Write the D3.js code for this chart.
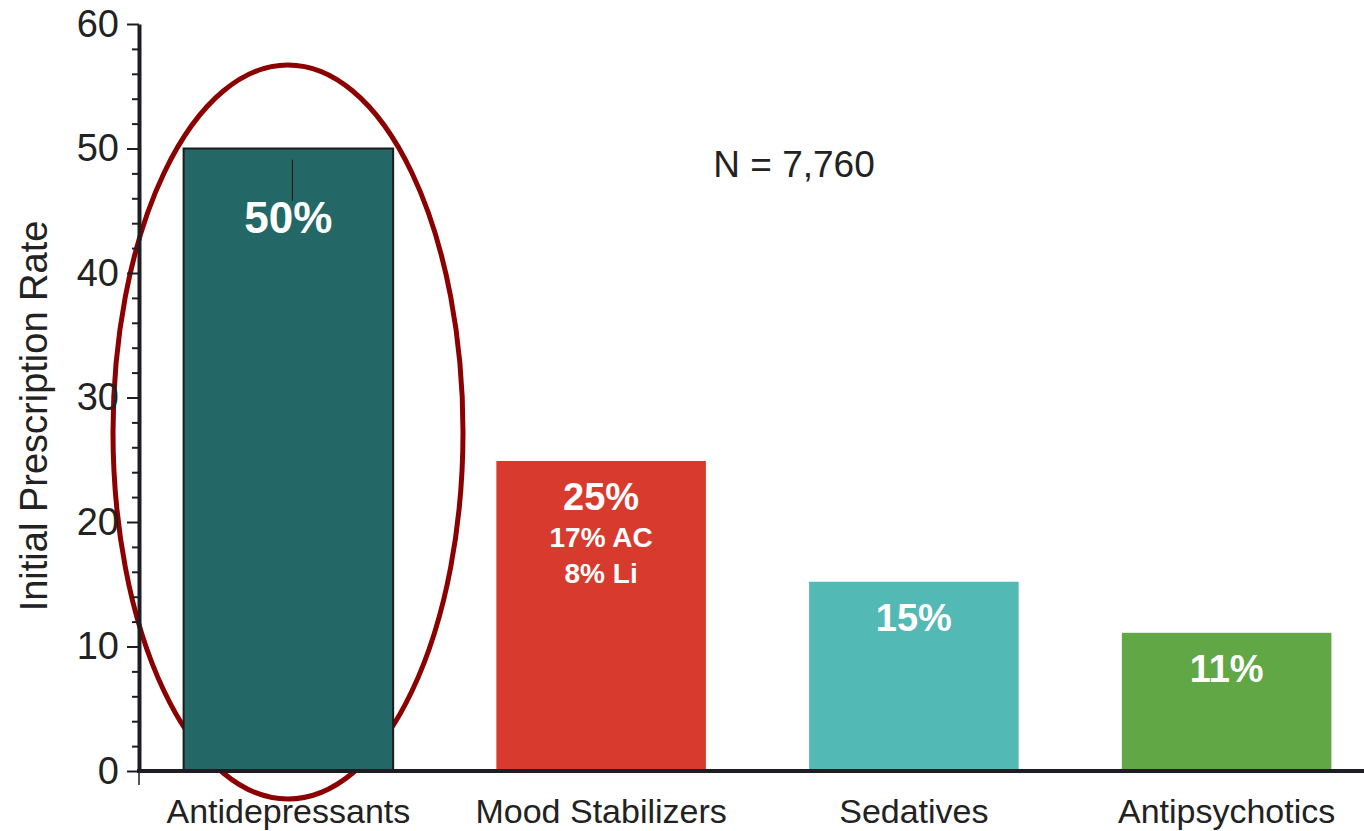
<!DOCTYPE html>
<html>
<head>
<meta charset="utf-8">
<script src="https://cdn.jsdelivr.net/npm/d3@7"></script>
<style>
html,body{margin:0;padding:0;background:#fff;}
svg{display:block;font-family:"Liberation Sans",Arial,sans-serif;}
</style>
</head>
<body>
<svg id="chart" width="1364" height="831"></svg>
<script>
const categories = ["Antidepressants", "Mood Stabilizers", "Sedatives", "Antipsychotics"];
const values = [50, 24.9, 15.2, 11.1];
const mainLabels = ["50%", "25%", "15%", "11%"];
const subLabels = [[], ["17% AC", "8% Li"], [], []];
const colors = ["#236866", "#d83a2d", "#52b9b5", "#62a745"];
const yTicks = [0, 10, 20, 30, 40, 50, 60];
const yMinorTicks = [2,4,6,8,12,14,16,18,22,24,26,28,32,34,36,38,42,44,46,48,52,54,56,58];
const annotation = "N = 7,760";
const yTitle = "Initial Prescription Rate";

const svg = d3.select("#chart");
const axisX = 139, y0 = 771, yTop = 24;
const y = d3.scaleLinear().domain([0, 60]).range([y0, yTop]);
const x = d3.scaleBand().domain(categories).range([132, 1383]).paddingInner(0.33).paddingOuter(0.165);

// highlight ellipse (behind everything)
const cx0 = x(categories[0]) + x.bandwidth() / 2;
svg.append("ellipse")
  .attr("cx", 288).attr("cy", 432).attr("rx", 175).attr("ry", 367)
  .attr("fill", "none").attr("stroke", "#8b0000").attr("stroke-width", 5);

// bars
svg.selectAll("rect.bar").data(categories).join("rect")
  .attr("class", "bar")
  .attr("x", d => x(d))
  .attr("y", (d, i) => y(values[i]))
  .attr("width", x.bandwidth())
  .attr("height", (d, i) => y(0) - y(values[i]))
  .attr("fill", (d, i) => colors[i])
  .attr("stroke", (d, i) => i === 0 ? "#1c1c1c" : "none")
  .attr("stroke-width", 2);

// small stub line in first bar
svg.append("line")
  .attr("x1", cx0 + 4).attr("x2", cx0 + 4)
  .attr("y1", y(49.1)).attr("y2", y(45.8))
  .attr("stroke", "#111").attr("stroke-width", 1);

// labels
svg.selectAll("text.main").data(categories).join("text")
  .attr("class", "main")
  .attr("x", d => x(d) + x.bandwidth() / 2)
  .attr("y", (d, i) => y(values[i]) + (i === 0 ? 84 : 49))
  .attr("text-anchor", "middle")
  .attr("fill", "#fff").attr("font-weight", "bold")
  .attr("font-size", (d, i) => i === 0 ? 44 : 38)
  .text((d, i) => mainLabels[i]);

categories.forEach((c, i) => {
  subLabels[i].forEach((s, j) => {
    svg.append("text")
      .attr("x", x(c) + x.bandwidth() / 2)
      .attr("y", y(values[i]) + 86 + j * 36)
      .attr("text-anchor", "middle")
      .attr("fill", "#fff").attr("font-weight", "bold")
      .attr("font-size", 28)
      .text(s);
  });
});

// y axis
const yAxis = d3.axisLeft(y).tickValues(yTicks).tickSize(12).tickPadding(8).tickSizeOuter(0);
const gy = svg.append("g").attr("transform", `translate(${axisX},0)`).call(yAxis);
gy.select(".domain").attr("stroke", "#1f1d24").attr("stroke-width", 4);
gy.selectAll(".tick line").attr("stroke", "#1f1d24").attr("stroke-width", 2);
gy.selectAll(".tick text").attr("font-size", 38).attr("fill", "#222")
  .attr("font-family", "Liberation Sans, Arial, sans-serif");
const yAxisMinor = d3.axisLeft(y).tickValues(yMinorTicks).tickSize(7).tickFormat("").tickSizeOuter(0);
const gym = svg.append("g").attr("transform", `translate(${axisX},0)`).call(yAxisMinor);
gym.select(".domain").remove();
gym.selectAll(".tick line").attr("stroke", "#1f1d24").attr("stroke-width", 2);

// x axis
const gx = svg.append("g").attr("transform", `translate(0,${y0})`);
gx.append("line").attr("x1", axisX - 2).attr("x2", 1364).attr("y1", 0).attr("y2", 0)
  .attr("stroke", "#1f1d24").attr("stroke-width", 4);
gx.append("line").attr("x1", axisX).attr("x2", axisX).attr("y1", 0).attr("y2", 14)
  .attr("stroke", "#1f1d24").attr("stroke-width", 1.5);
gx.selectAll("text").data(categories).join("text")
  .attr("x", d => x(d) + x.bandwidth() / 2)
  .attr("y", 52)
  .attr("text-anchor", "middle")
  .attr("font-size", 34).attr("fill", "#222")
  .text(d => d);

// y title
svg.append("text")
  .attr("transform", "translate(47,416) rotate(-90)")
  .attr("text-anchor", "middle")
  .attr("font-size", 38).attr("fill", "#222")
  .text(yTitle);

// annotation
svg.append("text")
  .attr("x", 794).attr("y", 177)
  .attr("text-anchor", "middle")
  .attr("font-size", 37).attr("fill", "#222")
  .text(annotation);
</script>
</body>
</html>
